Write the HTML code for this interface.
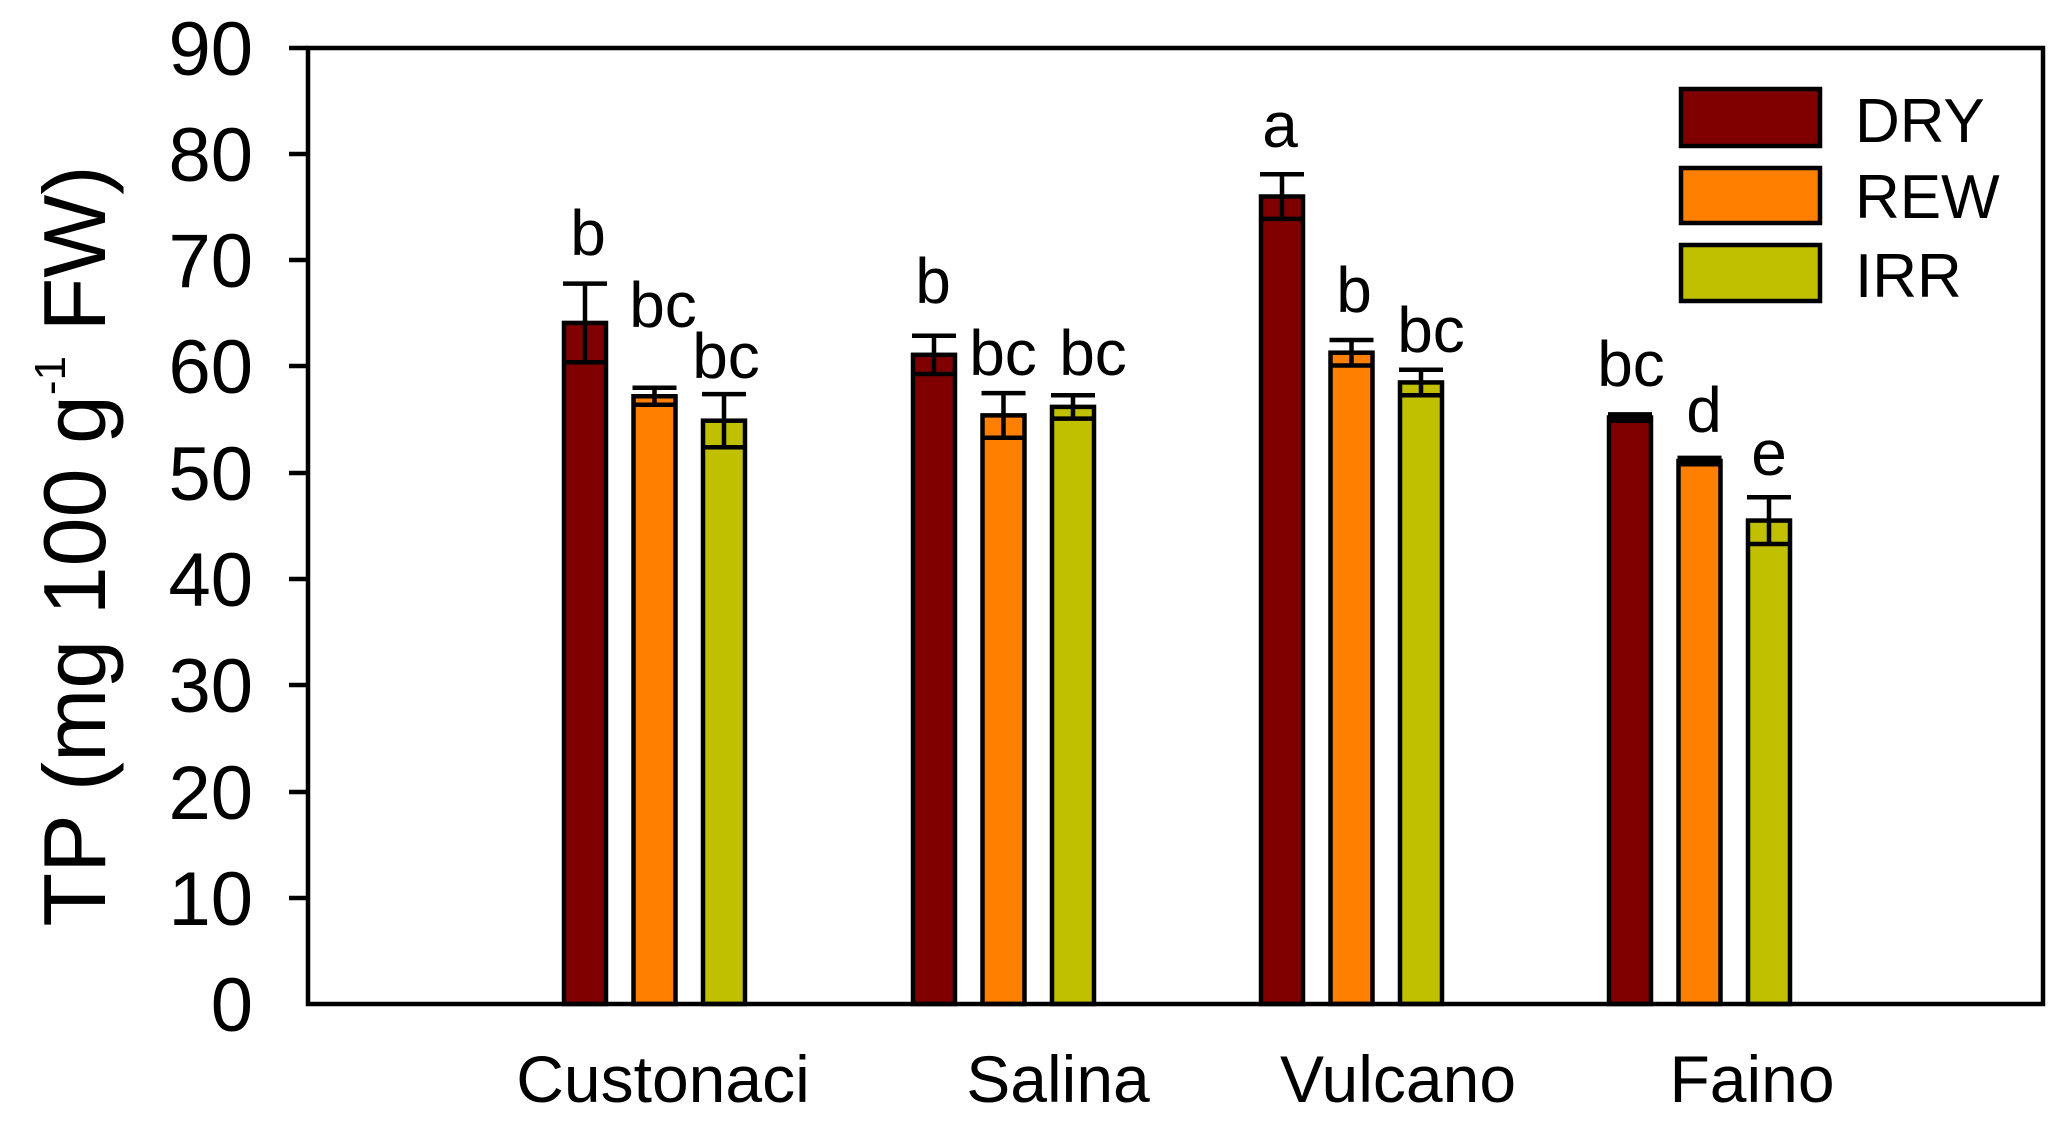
<!DOCTYPE html>
<html><head><meta charset="utf-8"><style>html,body{margin:0;padding:0;background:#fff}svg{display:block}</style></head>
<body>
<svg width="2058" height="1122" viewBox="0 0 2058 1122" xmlns="http://www.w3.org/2000/svg" font-family="Liberation Sans, Arial, sans-serif">
<rect width="2058" height="1122" fill="#fff"/>
<g id="bars" stroke="#000" stroke-width="4.5">
</g>
<script>
(function(){
var g=document.getElementById('bars');var ns='http://www.w3.org/2000/svg';
function y(v){return 1004-v*10.625;}
var cols=['#800000','#ff8000','#c0c000'];
var data=[[64.1,3.7,57.2,0.8,54.9,2.5],[61.1,1.8,55.4,2.1,56.2,1.1],[76.0,2.1,61.3,1.2,58.5,1.2],[55.2,0.3,51.1,0.3,45.5,2.2]];
var lefts=[562,911,1259,1607];
for(var i=0;i<4;i++){for(var j=0;j<3;j++){
var x=lefts[i]+j*69.5+2,w=42,v=data[i][j*2],e=data[i][j*2+1];
var r=document.createElementNS(ns,'rect');r.setAttribute('x',x);r.setAttribute('y',y(v));r.setAttribute('width',w);r.setAttribute('height',1004-y(v));r.setAttribute('fill',cols[j]);g.appendChild(r);
var cx=x+w/2,t=y(v+e),b=y(v-e);
function L(x1,y1,x2,y2){var l=document.createElementNS(ns,'line');l.setAttribute('x1',x1);l.setAttribute('y1',y1);l.setAttribute('x2',x2);l.setAttribute('y2',y2);g.appendChild(l);}
L(cx,t,cx,b);L(x-1,t,x+w+1,t);L(x,b,x+w,b);
}}
})();
</script>
<g stroke="#000" stroke-width="4.5" fill="none">
<rect x="308" y="48" width="1735" height="956"/>
<line x1="289" y1="48" x2="308" y2="48"/><line x1="289" y1="154" x2="308" y2="154"/><line x1="289" y1="260" x2="308" y2="260"/><line x1="289" y1="366" x2="308" y2="366"/><line x1="289" y1="473" x2="308" y2="473"/><line x1="289" y1="579" x2="308" y2="579"/><line x1="289" y1="685" x2="308" y2="685"/><line x1="289" y1="792" x2="308" y2="792"/><line x1="289" y1="898" x2="308" y2="898"/>
</g>
<g font-size="76" fill="#000" text-anchor="end">
<text x="253" y="75">90</text><text x="253" y="181">80</text><text x="253" y="287">70</text><text x="253" y="393">60</text><text x="253" y="500">50</text><text x="253" y="606">40</text><text x="253" y="712">30</text><text x="253" y="819">20</text><text x="253" y="925">10</text><text x="253" y="1031">0</text>
</g>
<g font-size="66" text-anchor="middle" fill="#000">
<text x="663" y="1102">Custonaci</text><text x="1058" y="1102">Salina</text><text x="1398" y="1102">Vulcano</text><text x="1752" y="1102">Faino</text>
</g>
<g font-size="64" text-anchor="middle" fill="#000">
<text x="588" y="255">b</text><text x="663" y="327">bc</text><text x="726" y="378">bc</text>
<text x="933" y="303">b</text><text x="1003" y="375">bc</text><text x="1093" y="375">bc</text>
<text x="1280" y="147">a</text><text x="1354" y="312">b</text><text x="1431" y="352">bc</text>
<text x="1631" y="386">bc</text><text x="1704" y="432">d</text><text x="1769" y="475">e</text>
</g>
<g stroke="#000" stroke-width="4.5">
<rect x="1681" y="89" width="139" height="57" fill="#800000"/>
<rect x="1681" y="168" width="139" height="55" fill="#ff8000"/>
<rect x="1681" y="245" width="139" height="56" fill="#c0c000"/>
</g>
<g font-size="62" fill="#000">
<text x="1855" y="142">DRY</text><text x="1855" y="218">REW</text><text x="1855" y="297">IRR</text>
</g>
<text transform="translate(105,546) rotate(-90)" text-anchor="middle" font-size="88" fill="#000">TP (mg 100 g<tspan font-size="44" dy="-40">-1</tspan><tspan dy="40"> FW)</tspan></text>
</svg>
</body></html>
